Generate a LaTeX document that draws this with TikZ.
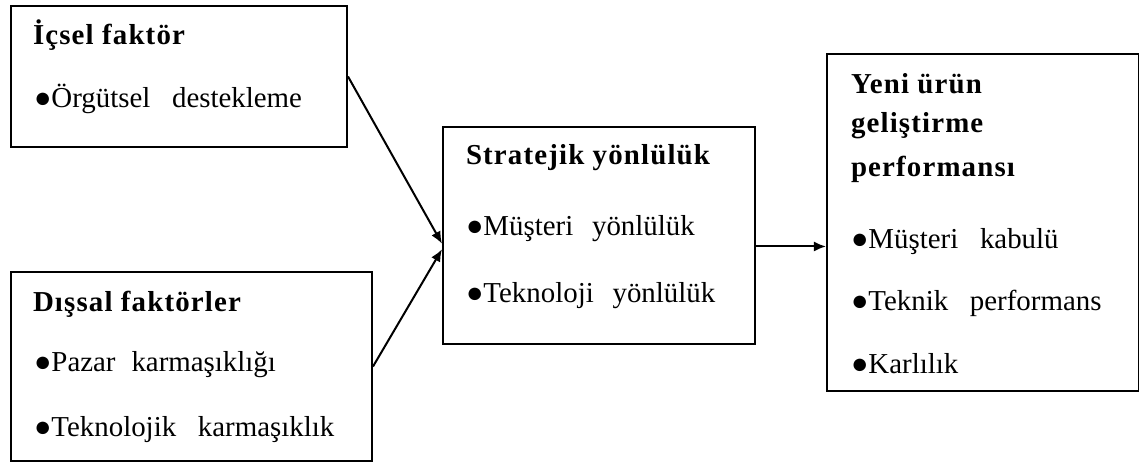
\documentclass[tikz,border=0pt]{standalone}
\usepackage{fontspec}
\setmainfont{Liberation Serif}
\usetikzlibrary{arrows.meta}

\begin{document}
\begin{tikzpicture}[x=0.45pt, y=-0.45pt, line width=0.9pt,
  box/.style={draw, rectangle, inner sep=0pt, anchor=north west},
  txt/.style={anchor=base west, inner sep=0pt, font=\fontsize{13}{15}\selectfont},
  head/.style={txt, font=\fontsize{13}{15}\selectfont\bfseries\addfontfeature{LetterSpace=4}},
  arr/.style={-{Latex[length=5.5pt, width=4.6pt]}}]

\useasboundingbox (0,0) rectangle (1139,462);

% boxes
\node (ic) [box, minimum width=336*0.45pt, minimum height=141*0.45pt] at (10,5) {};
\node (ds) [box, minimum width=361*0.45pt, minimum height=189*0.45pt] at (10,271) {};
\node (st) [box, minimum width=312*0.45pt, minimum height=217*0.45pt] at (442,126) {};
\node (yu) [box, minimum width=312*0.45pt, minimum height=337*0.45pt] at (826,53) {};

% texts
\node (ic1) [head] at (32,45) {İçsel faktör};
\node (ic2) [txt] at (33,108) {●Örgütsel\hspace{0.5em} destekleme};

\node (ds1) [head] at (32,311) {Dışsal faktörler};
\node (ds2) [txt] at (33,371) {●Pazar\hspace{0.3em} karmaşıklığı};
\node (ds3) [txt] at (33,436) {●Teknolojik\hspace{0.5em} karmaşıklık};

\node (st1) [head] at (465,165) {Stratejik yönlülük};
\node (st2) [txt] at (465,235) {●Müşteri\hspace{0.4em} yönlülük};
\node (st3) [txt] at (465,303) {●Teknoloji\hspace{0.4em} yönlülük};

\node (yu1) [head] at (850,94) {Yeni ürün};
\node (yu2) [head] at (850,133) {geliştirme};
\node (yu3) [head] at (850,177) {performansı};
\node (yu4) [txt] at (850,248) {●Müşteri\hspace{0.5em} kabulü};
\node (yu5) [txt] at (850,310) {●Teknik\hspace{0.5em} performans};
\node (yu6) [txt] at (850,373) {●Karlılık};

% arrows
\draw[arr] (ic.east) -- (st.183);
\draw[arr] (ds.east) -- (st.185);
\draw[arr] (st.-4.6) -- (st.-4.6 -| yu.west);

\end{tikzpicture}
\end{document}
